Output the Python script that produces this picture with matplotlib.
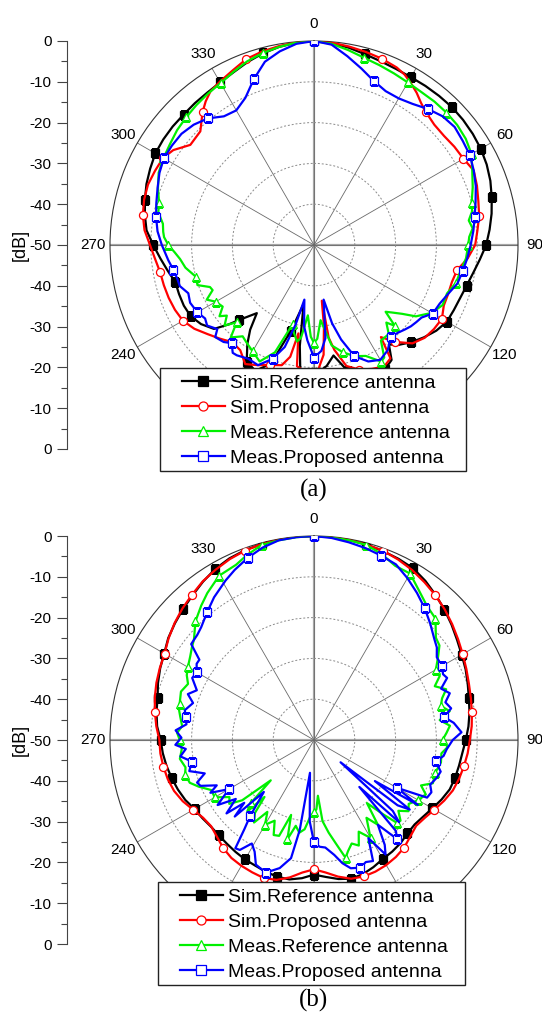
import numpy as np
import matplotlib
matplotlib.use("Agg")
import matplotlib.pyplot as plt
from matplotlib.lines import Line2D
from matplotlib.patches import Rectangle
from matplotlib.ticker import AutoMinorLocator

plt.rcParams['font.family'] = ['Liberation Sans', 'DejaVu Sans']

# ---------------------------------------------------------------------------
# Radiation patterns, (angle in degrees, normalised gain in dB)
# ---------------------------------------------------------------------------
# (a)
a_sim_ref = [(0, 0), (5, -0.3), (10, -0.9), (15, -1.6), (20, -2.1), (25, -2.4), (30, -2.5), (35, -2.4),
             (40, -2.3), (45, -2.2), (50, -2.3), (55, -2.5), (60, -2.8), (65, -3.3), (70, -4.0), (75, -4.9),
             (80, -5.8), (85, -6.8), (90, -7.8), (95, -9.2), (100, -10.4), (105, -11.3), (110, -11.9),
             (115, -12.2), (120, -12.4), (125, -13.4), (130, -14.8), (135, -16.3), (140, -18.0), (143, -19.5),
             (146, -16.0), (150, -15.0), (155, -15.5), (160, -16.5), (165, -18.0), (170, -22.5), (174, -20.2),
             (180, -18.0), (186, -18.0), (188, -25.0), (190, -35.3), (195, -28.3), (200, -19.0), (205, -16.0),
             (210, -17.0), (214, -20.8), (217, -24.0), (220, -28.2), (225, -24.0), (227, -21.5), (230, -18.0),
             (235, -16.2), (240, -15.1), (245, -14.8), (250, -14.8), (255, -14.8), (260, -13.6), (265, -12.2),
             (270, -10.6), (275, -8.8), (280, -7.9), (285, -7.1), (290, -6.3), (295, -5.7), (300, -5.1),
             (305, -4.9), (310, -4.8), (315, -4.8), (320, -4.6), (325, -4.4), (330, -4.0), (335, -3.3),
             (340, -2.3), (345, -1.4), (350, -0.7), (355, -0.2)]

a_sim_prop = [(0, 0), (5, -0.2), (10, -0.6), (15, -1.0), (20, -1.4), (25, -2.0), (28, -2.7), (31, -3.8),
              (34, -5.0), (37, -6.4), (40, -7.4), (45, -8.3), (50, -8.4), (55, -8.0), (60, -7.7), (65, -6.8),
              (70, -7.5), (75, -8.3), (80, -8.9), (85, -9.8), (90, -10.5), (95, -12.2), (100, -14.4),
              (105, -15.0), (110, -15.0), (115, -14.9), (120, -13.8), (125, -14.1), (130, -14.6), (135, -15.9),
              (140, -19.0), (144, -22.1), (146, -16.5), (150, -15.6), (155, -16.5), (160, -17.5), (165, -19.3),
              (169, -23.8), (171, -27.0), (172, -36.2), (173, -30.0), (175, -23.0), (178, -19.5), (180, -18.7),
              (185, -19.2), (188, -20.0), (190, -28.0), (192, -22.0), (195, -19.5), (200, -18.7), (205, -17.5),
              (210, -16.3), (215, -18.5), (220, -18.9), (225, -17.5), (230, -16.0), (235, -14.2), (240, -12.9),
              (245, -12.4), (250, -12.1), (255, -11.9), (260, -11.7), (265, -10.9), (270, -9.8), (275, -8.3),
              (280, -7.4), (285, -6.9), (290, -6.7), (295, -7.0), (300, -7.3), (304, -8.4), (309, -11.0),
              (315, -10.6), (320, -7.5), (323, -5.9), (326, -4.6), (330, -3.8), (335, -2.8), (340, -1.5),
              (345, -0.9), (350, -0.5), (355, -0.1)]

a_meas_ref = [(0, 0), (5, -0.5), (10, -1.5), (15, -2.5), (20, -3.1), (25, -3.6), (30, -4.0), (35, -4.2),
              (40, -4.1), (45, -4.1), (50, -4.2), (55, -4.6), (60, -5.4), (65, -7.2), (70, -8.6), (75, -10.0),
              (78, -10.4), (81, -11.6), (84, -10.9), (87, -11.9), (90, -12.2), (95, -12.6), (100, -13.5),
              (105, -14.0), (110, -15.3), (115, -15.2), (120, -16.7), (123, -18.5), (125, -19.5), (128, -22.6),
              (131, -24.8), (133, -26.0), (135, -22.0), (137, -24.0), (140, -21.5), (145, -21.4), (148, -17.5),
              (150, -17.0), (155, -20.0), (160, -21.0), (165, -22.8), (170, -25.0), (175, -31.5), (178, -27.0),
              (180, -26.0), (182, -27.5), (185, -32.7), (188, -27.0), (190, -26.0), (193, -28.0), (195, -30.0),
              (200, -22.0), (205, -18.5), (210, -19.9), (215, -21.0), (218, -21.6), (222, -19.5), (225, -23.2),
              (228, -20.5), (231, -22.5), (233, -21.0), (236, -23.0), (240, -22.2), (243, -20.5), (246, -22.8),
              (248, -22.5), (251, -19.8), (255, -20.0), (260, -18.0), (264, -17.0), (267, -15.8), (270, -14.3),
              (273, -13.2), (275, -12.9), (278, -12.6), (280, -11.8), (282, -11.0), (285, -10.7), (290, -9.3),
              (295, -8.0), (300, -7.4), (305, -6.9), (310, -6.2), (315, -5.7), (320, -5.2), (325, -4.7),
              (330, -4.2), (335, -3.2), (340, -2.1), (345, -1.3), (350, -0.7), (355, -0.2)]

a_meas_prop = [(0, 0), (5, -0.7), (10, -3.0), (15, -5.2), (20, -7.2), (25, -8.4), (30, -8.5), (35, -7.8),
               (40, -6.5), (45, -5.4), (50, -5.0), (55, -5.5), (60, -5.9), (65, -6.8), (70, -7.8), (75, -9.0),
               (80, -10.0), (85, -10.8), (90, -11.6), (95, -12.3), (100, -13.0), (105, -13.6), (110, -15.0),
               (115, -16.0), (120, -16.4), (124, -18.2), (127, -18.6), (130, -19.0), (133, -19.6), (136, -20.2),
               (140, -20.7), (145, -18.5), (150, -17.5), (155, -18.5), (160, -21.0), (164, -25.9), (167, -30.3),
               (170, -36.4), (173, -27.0), (176, -24.0), (180, -22.4), (184, -26.6), (187, -30.0), (190, -36.4),
               (193, -30.0), (196, -24.0), (200, -20.3), (205, -17.5), (210, -17.8), (215, -17.0), (217, -16.9),
               (220, -18.6), (223, -17.5), (227, -16.9), (229, -18.6), (233, -17.2), (236, -17.8), (240, -17.0),
               (245, -16.5), (249, -17.0), (253, -15.6), (256, -15.5), (260, -15.0), (264, -14.1), (270, -12.7),
               (275, -11.5), (280, -10.7), (285, -10.0), (290, -9.2), (295, -8.2), (300, -7.5), (305, -7.5),
               (310, -7.6), (315, -8.3), (320, -9.5), (325, -11.5), (330, -11.9), (335, -10.2), (340, -6.8),
               (345, -3.5), (350, -1.8), (355, -0.5)]

# (b)
b_sim_ref = [(0, 0), (5, -0.05), (10, -0.2), (15, -0.4), (20, -0.7), (25, -1.0), (30, -1.4), (35, -2.4),
             (40, -3.6), (45, -4.8), (50, -6.0), (55, -7.2), (60, -8.2), (65, -9.0), (70, -9.9), (75, -10.7),
             (80, -11.3), (85, -12.0), (90, -12.8), (95, -13.5), (100, -13.9), (105, -14.2), (110, -14.6),
             (115, -15.5), (120, -16.5), (125, -17.3), (130, -17.8), (135, -17.6), (140, -17.0), (145, -16.6),
             (150, -16.3), (155, -15.6), (160, -15.0), (165, -14.8), (170, -15.4), (175, -16.3), (180, -17.0),
             (185, -16.0), (190, -15.3), (195, -15.3), (200, -15.6), (205, -16.0), (210, -16.2), (215, -16.5),
             (220, -16.8), (225, -17.0), (230, -17.0), (235, -16.6), (240, -16.2), (245, -15.2), (250, -14.5),
             (255, -13.9), (260, -13.3), (265, -12.8), (270, -12.4), (275, -11.4), (280, -10.8), (285, -10.3),
             (290, -9.3), (295, -8.4), (300, -7.6), (305, -6.4), (310, -5.5), (315, -4.6), (320, -3.7),
             (325, -2.6), (330, -1.6), (335, -0.9), (340, -0.5), (345, -0.3), (350, -0.1), (355, 0)]

b_sim_prop = [(0, 0), (5, -0.05), (10, -0.2), (15, -0.4), (20, -0.6), (25, -1.2), (30, -1.9), (35, -2.8),
              (40, -3.7), (45, -4.7), (50, -5.8), (55, -6.9), (60, -7.9), (65, -8.8), (70, -9.6), (75, -10.2),
              (80, -10.7), (85, -11.2), (90, -11.8), (95, -12.2), (100, -12.7), (105, -13.2), (110, -13.8),
              (115, -14.8), (120, -15.9), (125, -16.8), (130, -17.3), (135, -16.6), (140, -15.6), (145, -15.0),
              (150, -14.6), (155, -14.4), (160, -14.4), (165, -14.8), (170, -16.0), (175, -17.4), (180, -18.3),
              (185, -17.4), (190, -15.8), (195, -14.5), (200, -14.0), (205, -14.2), (210, -14.4), (215, -14.7),
              (220, -15.4), (225, -16.4), (230, -17.1), (235, -16.8), (240, -15.8), (245, -14.5), (250, -13.5),
              (255, -12.9), (260, -12.5), (265, -12.2), (270, -12.1), (275, -11.2), (280, -10.4), (285, -9.6),
              (290, -8.9), (295, -8.3), (300, -7.7), (305, -6.5), (310, -5.4), (315, -4.4), (320, -3.5),
              (325, -2.5), (330, -1.8), (335, -1.1), (340, -0.6), (345, -0.3), (350, -0.1), (355, 0)]

b_meas_ref = [(0, 0), (5, -0.1), (10, -0.3), (15, -0.5), (20, -1.5), (25, -2.9), (30, -2.9), (35, -5.2),
              (40, -7.0), (45, -7.9), (50, -11.0), (53, -11.5), (56, -13.3), (60, -15.5), (63, -15.4),
              (66, -17.6), (69, -15.3), (72, -17.0), (75, -17.8), (78, -16.0), (81, -18.8), (84, -16.5),
              (87, -17.5), (90, -18.5), (93, -17.2), (96, -18.6), (100, -18.4), (105, -19.2), (110, -19.0),
              (113, -21.5), (116, -19.5), (120, -20.5), (124, -22.0), (127, -21.0), (130, -23.0), (133, -21.0),
              (135, -21.3), (137, -25.0), (140, -29.8), (143, -24.0), (146, -27.0), (150, -22.3), (154, -25.0),
              (157, -21.9), (160, -23.0), (163, -21.5), (165, -20.1), (168, -24.0), (171, -27.0), (174, -30.0),
              (176, -36.3), (178, -33.0), (180, -32.3), (183, -31.0), (186, -28.0), (189, -27.0), (192, -28.5),
              (195, -24.8), (197, -30.8), (200, -25.0), (203, -24.7), (206, -28.0), (210, -26.0), (213, -29.0),
              (216, -25.0), (219, -27.0), (221, -31.5), (223, -26.0), (225, -28.0), (227, -35.5), (230, -27.0),
              (233, -24.0), (236, -25.0), (240, -21.9), (244, -22.0), (248, -19.5), (251, -17.8), (255, -17.3),
              (258, -17.8), (262, -16.8), (266, -17.5), (270, -17.1), (273, -16.4), (276, -17.5), (280, -16.7),
              (283, -16.0), (285, -15.9), (290, -15.3), (294, -16.2), (297, -15.0), (300, -14.3), (304, -13.4),
              (307, -12.5), (310, -11.6), (315, -8.9), (320, -7.0), (324, -5.5), (330, -3.5), (336, -3.0),
              (340, -1.8), (345, -0.5), (350, -0.3), (355, -0.1)]

b_meas_prop = [(0, 0), (5, -0.3), (10, -0.8), (15, -1.3), (20, -1.9), (25, -2.5), (30, -4.2), (35, -6.0),
               (40, -7.8), (45, -9.7), (50, -11.5), (53, -12.3), (56, -13.7), (60, -13.8), (63, -14.5),
               (65, -14.0), (68, -16.4), (71, -14.8), (74, -16.5), (77, -15.5), (80, -17.6), (83, -15.5),
               (87, -13.8), (90, -16.0), (94, -17.4), (97, -18.0), (100, -19.7), (104, -18.0), (107, -18.5),
               (111, -19.5), (114, -18.5), (117, -18.9), (120, -26.6), (122, -20.0), (124, -32.0), (126, -21.0),
               (128, -24.0), (130, -41.5), (132, -24.0), (134, -21.0), (136, -34.0), (138, -20.0), (140, -18.3),
               (143, -24.0), (146, -19.0), (148, -16.9), (151, -22.5), (154, -17.0), (157, -17.5), (160, -16.7),
               (164, -17.3), (167, -19.0), (170, -21.4), (174, -23.5), (177, -23.8), (180, -24.9), (183, -30.0),
               (187, -41.9), (189, -27.7), (191, -20.5), (195, -17.5), (200, -15.4), (205, -16.3), (208, -19.0),
               (211, -20.4), (214, -17.5), (216, -17.2), (218, -22.3), (220, -25.6), (224, -32.3), (226, -23.0),
               (228, -27.0), (230, -22.0), (233, -26.0), (236, -21.5), (240, -25.9), (243, -21.5), (245, -23.7),
               (248, -20.0), (250, -19.5), (253, -22.0), (256, -18.5), (260, -19.6), (263, -17.0), (266, -18.5),
               (268, -16.0), (271, -17.5), (274, -16.0), (277, -18.5), (280, -18.1), (283, -17.5), (287, -19.0),
               (290, -17.1), (293, -18.8), (297, -16.5), (300, -16.8), (303, -15.7), (305, -15.7), (308, -11.8),
               (312, -11.5), (315, -10.9), (320, -9.2), (325, -7.3), (331, -5.3), (335, -4.0), (340, -2.5),
               (345, -1.2), (350, -0.3), (355, -0.1)]

legend_labels = ["Sim.Reference antenna", "Sim.Proposed antenna",
                 "Meas.Reference antenna", "Meas.Proposed antenna"]
angle_ticks = list(range(0, 360, 30))
# the 150/180/210 labels sit under the legend box
angle_labels = ['0', '30', '60', '90', '120', '', '', '', '240', '270', '300', '330']
db_rings = [-40, -30, -20, -10]
side_scale_labels = ['0', '-10', '-20', '-30', '-40', '-50', '-40', '-30', '-20', '-10', '0']
captions = ['(a)', '(b)']

# ---------------------------------------------------------------------------
W, H = 542, 1017
fig = plt.figure(figsize=(W / 100, H / 100), dpi=100)


def px_box(x0, y0, x1, y1):
    return [x0 / W, 1 - y1 / H, (x1 - x0) / W, (y1 - y0) / H]


styles = [
    dict(color='black', marker='s', mfc='black', mec='black', step=15),
    dict(color='#ff0000', marker='o', mfc='white', mec='#ff0000', step=20),
    dict(color='#00f000', marker='^', mfc='white', mec='#00f000', step=15),
    dict(color='#0000ff', marker='s', mfc='white', mec='#0000ff', step=20),
]


def draw_panel(cy, series, legend_box, caption, caption_y):
    cx, R = 314, 204
    ax = fig.add_axes(px_box(cx - R, cy - R, cx + R, cy + R), projection='polar')
    ax.set_theta_zero_location('N')
    ax.set_theta_direction(-1)
    ax.set_rlim(-50, 0)
    ax.set_yticks(db_rings)
    ax.set_yticklabels([])
    ax.set_xticks(np.deg2rad(angle_ticks))
    ax.set_xticklabels(angle_labels, fontsize=11)
    ax.set_xticks(np.deg2rad(np.arange(15, 360, 30)), minor=True)
    ax.tick_params(axis='x', which='major', pad=5, direction='in', length=5,
                   width=0.6, color='#444444')
    ax.tick_params(axis='x', which='minor', direction='in', length=4, width=0.6,
                   color='#444444')
    ax.xaxis.grid(True, which='major', color='#6a6a6a', lw=0.6, ls='-')
    ax.xaxis.grid(False, which='minor')
    ax.yaxis.grid(True, color='#8a8a8a', lw=0.7, ls=(0, (2, 2)))
    ax.spines['polar'].set_color('#333333')
    ax.spines['polar'].set_linewidth(0.8)
    for a in (0, 90, 180, 270):
        ax.axvline(np.deg2rad(a), color='#a6a6a6', lw=1.6, zorder=1.5)

    for data, st in zip(series, styles):
        ang = np.array([p[0] for p in data] + [360.0])
        val = np.array([p[1] for p in data] + [data[0][1]])
        marks = [i for i, a in enumerate(ang[:-1]) if a % st['step'] == 0]
        ax.plot(np.deg2rad(ang), val, color=st['color'], lw=1.6, marker=st['marker'],
                ms=5.8, mfc=st['mfc'], mec=st['mec'], mew=0.9, markevery=marks, zorder=3)

    # white legend box drawn over the lower part of the polar plot
    x0, y0, x1, y1 = legend_box
    fig.patches.append(Rectangle((x0 / W, 1 - y1 / H), (x1 - x0) / W, (y1 - y0) / H,
                                 transform=fig.transFigure, facecolor='white',
                                 edgecolor='#222222', lw=1.0, zorder=8))
    handles = [Line2D([], [], color=st['color'], lw=1.6, marker=st['marker'], ms=6.5,
                      mfc=st['mfc'], mec=st['mec'], mew=0.9) for st in styles]
    leg = fig.legend(handles, legend_labels, loc='upper left',
                     bbox_to_anchor=((x0 + 22) / W, 1 - (y0 + 6) / H),
                     fontsize=14, frameon=False, borderaxespad=0, borderpad=0,
                     labelspacing=0.38, handlelength=2.2, handletextpad=0.28, numpoints=1)
    leg.set_zorder(10)

    # linear dB scale on the left
    axl = fig.add_axes(px_box(67, cy - R, 68, cy + R))
    axl.set_ylim(-50, 50)
    axl.set_yticks(np.linspace(50, -50, 11))
    axl.set_yticklabels(side_scale_labels)
    axl.yaxis.set_minor_locator(AutoMinorLocator(2))
    axl.tick_params(axis='y', which='major', direction='out', length=7, width=0.8,
                    labelsize=11, pad=4, color='#444444')
    axl.tick_params(axis='y', which='minor', direction='out', length=4, width=0.8,
                    color='#444444')
    axl.set_xticks([])
    for s in ('top', 'right', 'bottom'):
        axl.spines[s].set_visible(False)
    axl.spines['left'].set_color('#444444')
    axl.spines['left'].set_linewidth(0.8)
    axl.patch.set_visible(False)
    fig.text(20 / W, 1 - cy / H, '[dB]', rotation=90, ha='center', va='center', fontsize=13)

    fig.text(cx / W, 1 - caption_y / H, caption, ha='center', va='center',
             family=['Liberation Serif', 'DejaVu Serif'], fontsize=18)


draw_panel(245, [a_sim_ref, a_sim_prop, a_meas_ref, a_meas_prop], (160, 368, 466, 471), captions[0], 490)
draw_panel(740, [b_sim_ref, b_sim_prop, b_meas_ref, b_meas_prop], (158, 882, 465, 985), captions[1], 1000)

fig.savefig('out.png', dpi=100, facecolor='white')
